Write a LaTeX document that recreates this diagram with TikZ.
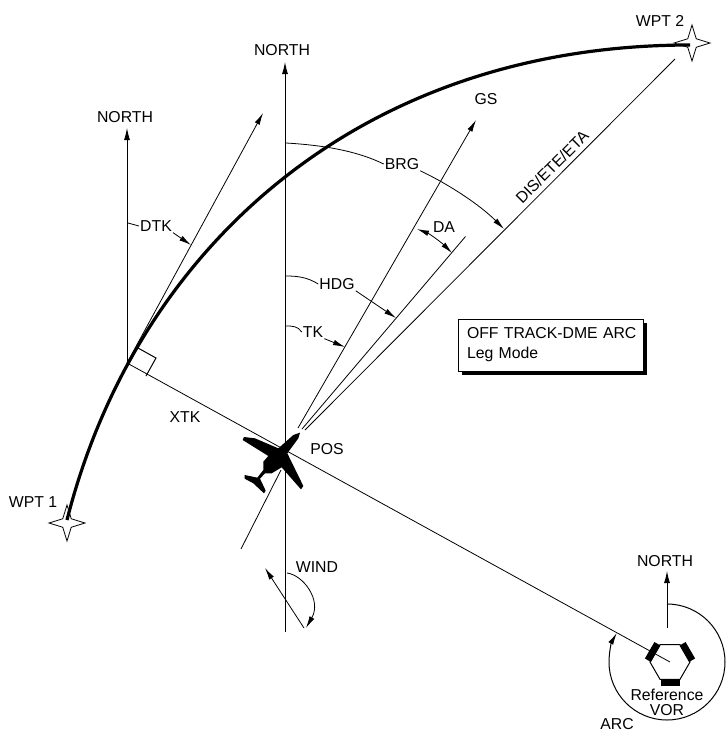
\documentclass[tikz,border=0pt]{standalone}
\usepackage{fontspec}
\setmainfont{Liberation Sans}
\usetikzlibrary{arrows.meta,shapes.geometric,shadows}
\tikzset{
  lbl/.style={inner sep=1pt,font=\fontsize{15.8}{18}\selectfont},
  thinline/.style={line width=0.8pt},
  northline/.style={line width=0.9pt,-{Latex[length=12pt,width=6pt]}},
  tipline/.style={line width=0.8pt,-{Latex[length=12pt,width=5.5pt]}},
  bothline/.style={line width=0.8pt,{Latex[length=12pt,width=5.5pt]}-{Latex[length=12pt,width=5.5pt]}},
  waypoint/.style={star,star points=4,star point ratio=3,draw,line width=0.8pt,minimum size=36pt,inner sep=0pt},
}
\begin{document}
\begin{tikzpicture}[x=1pt,y=-1pt]
\useasboundingbox (0,0) rectangle (726,732);

% waypoints and the curved leg
\node[waypoint] (wptone) at (67,523) {};
\node[waypoint] (wpttwo) at (692,43) {};
\node[lbl] (lblwptone) at (33,502) {WPT 1};
\node[lbl] (lblwpttwo) at (660,21) {WPT 2};
\coordinate (legstart) at (67,520);
\coordinate (legend) at (690,45);
\draw[line width=3.2pt] (legstart) .. controls (136,248) and (360,45) .. (legend);

% north lines
\coordinate (abeam) at (127,363);
\coordinate (northbase) at (285,632);
\node[lbl] (lblnorthmain) at (282,50) {NORTH};
\node[lbl] (lblnorthleft) at (125,117) {NORTH};
\node[lbl] (lblnorthvor) at (665,561) {NORTH};
\coordinate (northmain) at (285,62);
\coordinate (northleft) at (127,128);
\draw[northline] (northbase) -- (northmain);
\draw[northline] (abeam) -- (northleft);

% lines out of the aircraft
\coordinate (posgs) at (298,428);
\coordinate (gstip) at (476,120);
\coordinate (poshdg) at (302,429);
\coordinate (hdgend) at (465.5,236.5);
\coordinate (posdis) at (305,430);
\coordinate (disend) at (675,59);
\coordinate (tailstart) at (241,549);
\coordinate (tailend) at (281,470);
\coordinate (dtktip) at (263,113);
\node[lbl] (lblgs) at (486,99) {GS};
\node[lbl,rotate=45] (lbldis) at (552,167) {DIS/ETE/ETA};
\draw[tipline] (posgs) -- (gstip);
\draw[thinline] (poshdg) -- (hdgend);
\draw[thinline] (posdis) -- (disend);
\draw[thinline] (tailstart) -- (tailend);
\draw[tipline] (abeam) -- (dtktip);

% reference VOR
\node[regular polygon,regular polygon sides=6,draw,line width=1pt,minimum size=40pt,inner sep=0pt] (vor) at (670,662) {};
\foreach \a in {30,150,270}
  \fill[rotate around={\a:(vor.center)}] ([shift={(16.5,-9.5)}]vor.center) rectangle ([shift={(23.5,9.5)}]vor.center);
\coordinate (vornorthbase) at (667,628);
\coordinate (vornorthtip) at (667,571);
\coordinate (arcstart) at (667,604);
\draw[northline] (vornorthbase) -- (vornorthtip);
\draw[line width=1pt,-{Latex[length=12pt,width=5.5pt]}] (arcstart) arc[start angle=-90,end angle=210,radius=58];
\draw[thinline] (abeam) -- (vor.center);
\node[lbl,align=center] (lblvor) at (667,702) {Reference\\[-3pt]VOR};
\node[lbl] (lblarc) at (617,724) {ARC};

% square at the abeam point
\coordinate (sqa) at (138,348);
\coordinate (sqb) at (156,358);
\coordinate (sqc) at (146,376);
\draw[line width=1pt] (sqa) -- (sqb) -- (sqc);

% angle labels
\node[lbl] (lblbrg) at (402,164) {BRG};
\node[lbl] (lblda) at (444,227) {DA};
\node[lbl] (lblhdg) at (337,284) {HDG};
\node[lbl] (lbltk) at (313,332) {TK};
\node[lbl] (lbldtk) at (156,226) {DTK};
\node[lbl] (lblxtk) at (185,417) {XTK};
\node[lbl] (lblpos) at (327,449) {POS};
\node[lbl] (lblwind) at (317,567) {WIND};

\coordinate (brgstart) at (286,143);
\coordinate (brgend) at (504,229);
\coordinate (hdgstart) at (286,276);
\coordinate (hdgtip) at (396,318);
\coordinate (tkstart) at (286,326);
\coordinate (tktip) at (345,347);
\coordinate (dtkstart) at (128,223);
\coordinate (dtkend) at (191,245);
\coordinate (dagsside) at (417,229);
\coordinate (dahdgside) at (452,253);
\draw[thinline] (brgstart) .. controls (320,145) and (355,150) .. (lblbrg.west);
\draw[tipline] (lblbrg.south east) .. controls (450,185) and (480,205) .. (brgend);
\draw[thinline] (hdgstart) .. controls (297,276) and (307,277) .. (lblhdg.west);
\draw[tipline] (lblhdg.south east) -- (hdgtip);
\draw[thinline] (tkstart) .. controls (292,326) and (298,326) .. (lbltk.west);
\draw[tipline] (lbltk.south east) -- (tktip);
\draw[thinline] (dtkstart) -- (lbldtk.west);
\draw[tipline] (lbldtk.south east) -- (dtkend);
\draw[bothline] (dagsside) .. controls (430,234) and (442,243) .. (dahdgside);

% wind
\coordinate (windtail) at (304,628);
\coordinate (windtip) at (265,568);
\coordinate (windstart) at (287,573);
\coordinate (windend) at (306,628);
\draw[tipline] (windtail) -- (windtip);
\draw[tipline] (windstart) .. controls (303,575) and (322,600) .. (windend);

% aircraft
\begin{scope}[shift={(200,380)},scale=1/3]
\fill (300,158) -- (295,175) -- (262,220) -- (310,318) -- (303,328) -- (245,262) -- (215,280) -- (195,280)
  -- (180,296) -- (197,332) -- (192,340) -- (160,310) -- (134,296) -- (134,285) -- (172,293) -- (190,270)
  -- (190,245) -- (205,228) -- (128,180) -- (132,171) -- (165,175) -- (235,205) -- (280,165) -- cycle;
\end{scope}

% note box
\node[draw,fill=white,line width=1pt,drop shadow={shadow xshift=4pt,shadow yshift=-4pt,fill=black,opacity=1},
  lbl,align=left,minimum width=185pt,minimum height=52pt,text width=175pt] (notebox) at (550.5,345)
  {\hspace*{4pt}OFF TRACK-DME ARC\\[2pt]\hspace*{4pt}Leg Mode};
\end{tikzpicture}
\end{document}
